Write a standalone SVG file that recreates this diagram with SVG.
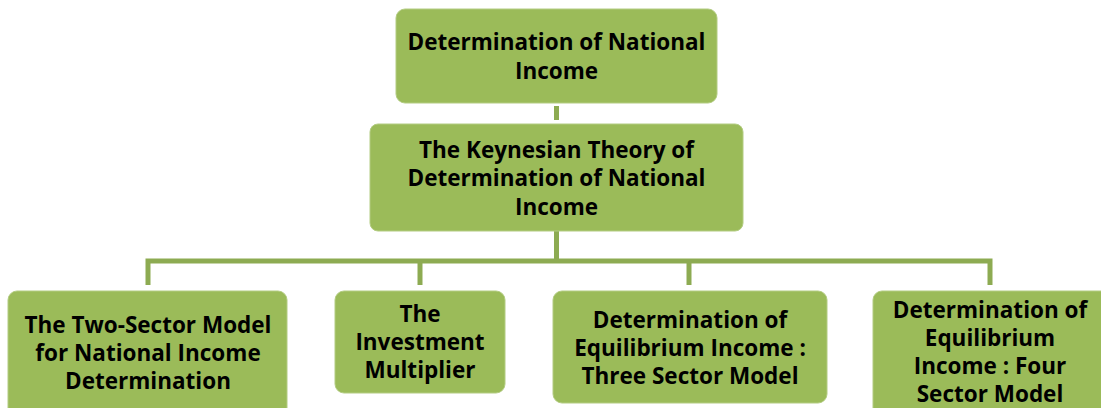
<svg xmlns="http://www.w3.org/2000/svg" width="1101" height="408" viewBox="0 0 1101 408">
<style>
.box{fill:#9bbb59;stroke:#b3cc82;stroke-width:1}
.t{font-family:"Open Sans","Noto Sans",sans-serif;font-weight:700;font-size:22.5px;fill:#000;text-anchor:middle}
.ln{stroke:#8dab52;stroke-width:5;fill:none}
</style>
<rect width="1101" height="408" fill="#ffffff"/>
<g id="connectors">
<line class="ln" x1="556.5" y1="106" x2="556.5" y2="120" stroke="#7f9a49"/>
<line class="ln" x1="556.5" y1="231" x2="556.5" y2="261"/>
<polyline class="ln" points="148,285 148,261 990,261 990,285"/>
<line class="ln" x1="420" y1="261" x2="420" y2="285"/>
<line class="ln" x1="689" y1="261" x2="689" y2="285"/>
</g>
<g id="n_root">
<rect class="box" x="396" y="9" width="321" height="94" rx="9"/>
<text class="t" x="556.5" y="50">Determination of National</text>
<text class="t" x="556.5" y="79">Income</text>
</g>
<g id="n_keynes">
<rect class="box" x="370" y="124" width="373" height="107" rx="8"/>
<text class="t" x="556.5" y="158">The Keynesian Theory of</text>
<text class="t" x="556.5" y="186">Determination of National</text>
<text class="t" x="556.5" y="215">Income</text>
</g>
<g id="n_two">
<rect class="box" x="8" y="291" width="279" height="130" rx="9"/>
<text class="t" x="148" y="333">The Two-Sector Model</text>
<text class="t" x="148" y="361">for National Income</text>
<text class="t" x="148" y="389">Determination</text>
</g>
<g id="n_mult">
<rect class="box" x="335" y="291" width="170" height="102" rx="9"/>
<text class="t" x="420" y="322">The</text>
<text class="t" x="420" y="350">Investment</text>
<text class="t" x="420" y="378">Multiplier</text>
</g>
<g id="n_three">
<rect class="box" x="553" y="291" width="274" height="112" rx="9"/>
<text class="t" x="690" y="328">Determination of</text>
<text class="t" x="690" y="356">Equilibrium Income :</text>
<text class="t" x="690" y="384">Three Sector Model</text>
</g>
<g id="n_four">
<rect class="box" x="873" y="291" width="240" height="130" rx="9"/>
<text class="t" x="990" y="318">Determination of</text>
<text class="t" x="990" y="346">Equilibrium</text>
<text class="t" x="990" y="374">Income : Four</text>
<text class="t" x="990" y="402">Sector Model</text>
</g>
</svg>
